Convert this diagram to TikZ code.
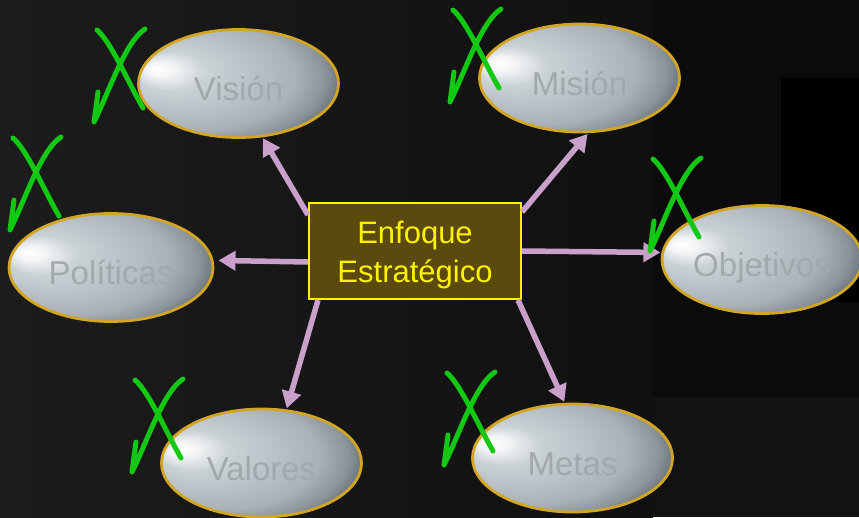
\documentclass[tikz,border=0pt]{standalone}
\usepackage{fontspec}
\setmainfont{Liberation Sans}
\usetikzlibrary{arrows.meta,calc,shapes.geometric}
\definecolor{bgL}{HTML}{1C1C1C}
\definecolor{bgR}{HTML}{101010}
\definecolor{bgD}{HTML}{0B0B0B}
\definecolor{bgB}{HTML}{121212}
\definecolor{pillA}{HTML}{F2F4F5}
\definecolor{pillB}{HTML}{CBD2D6}
\definecolor{pillC}{HTML}{B8C0C5}
\definecolor{pillD}{HTML}{A9B1B6}
\definecolor{pillE}{HTML}{8B949A}
\definecolor{pillF}{HTML}{5E676D}
\definecolor{pilltext}{HTML}{A2A8AC}
\definecolor{goldrim}{HTML}{D2A624}
\definecolor{boxfill}{HTML}{5A4A0E}
\definecolor{arrowc}{HTML}{C9A0CA}
\definecolor{markgreen}{HTML}{12C812}
\pgfdeclareradialshading{pillshade}{\pgfpoint{-21bp}{7bp}}{%
  color(0bp)=(white); color(3.5bp)=(pillA); color(9bp)=(pillB);
  color(18bp)=(pillC); color(25bp)=(pillD); color(30bp)=(pillE); color(34bp)=(pillF);
  color(50bp)=(pillF)}
\tikzset{
  pill/.style={ellipse, draw=goldrim, line width=2.8pt, shading=pillshade,
    minimum width=200pt, minimum height=108pt, inner sep=0pt,
    text=pilltext, font=\fontsize{33}{38}\selectfont,
    text height=34pt, text depth=0pt},
  centerbox/.style={draw=yellow, fill=boxfill, line width=2pt,
    minimum width=212pt, minimum height=96pt, inner sep=0pt},
  boxtext/.style={text=yellow, align=center,
    font=\fontsize{31}{39}\selectfont},
  conn/.style={draw=arrowc, line width=5.5pt,
    -{Triangle[width=19pt,length=17pt]}, shorten >=1pt},
  markline/.style={draw=markgreen, line width=5pt, line cap=round, line join=round},
  okmark/.pic={
    \draw[markline] (0,0) .. controls (14,12) and (30,50) .. (46,78);
    \draw[markline] (1,62) -- (-3,92) .. controls (12,62) and (28,12) .. (48,-1);
  }
}
\begin{document}
\begin{tikzpicture}[x=1pt,y=-1pt]
\useasboundingbox (0,0) rectangle (859,517);
\clip (0,0) rectangle (859,517);
% background
\shade[left color=bgL, right color=bgR] (0,0) rectangle (653,517);
\fill[bgD] (653,0) rectangle (859,397);
\fill[bgB] (653,397) rectangle (859,517);
\fill[black] (781,78) rectangle (859,302);
% ellipses
\node[pill] (vision) at (238.5,83.5) {Visión};
\node[pill] (mision) at (579.5,78) {Misión};
\node[pill, minimum width=204pt] (politicas) at (111,267.5) {Políticas};
\node[pill] (objetivos) at (762,259.5) {Objetivos};
\node[pill] (valores) at (261.5,463) {Valores};
\node[pill] (metas) at (572.5,458) {Metas};
% centre box
\node[centerbox] (box) at (415,251) {};
\node[boxtext] (boxlabel) at ([yshift=-3.5pt]box.center) {Enfoque\\Estratégico};
% connectors
\draw[conn] ([yshift=-13pt]box.north west) -- (vision.-66);
\draw[conn] ([yshift=-10pt]box.north east) -- (mision.-81);
\draw[conn, shorten >=5pt] ([yshift=-11pt]box.west) -- (politicas.4);
\draw[conn] (box.east) -- (objetivos.176);
\draw[conn] ([xshift=10pt]box.south west) -- (valores.65);
\draw[conn] ([xshift=-4pt]box.south east) -- (metas.98);
% hand-drawn marks
\pic at (97,30) {okmark};
\pic at (453,10) {okmark};
\pic at (13,138) {okmark};
\pic at (653,159) {okmark};
\pic at (135,380) {okmark};
\pic at (447,373) {okmark};
\end{tikzpicture}
\end{document}
